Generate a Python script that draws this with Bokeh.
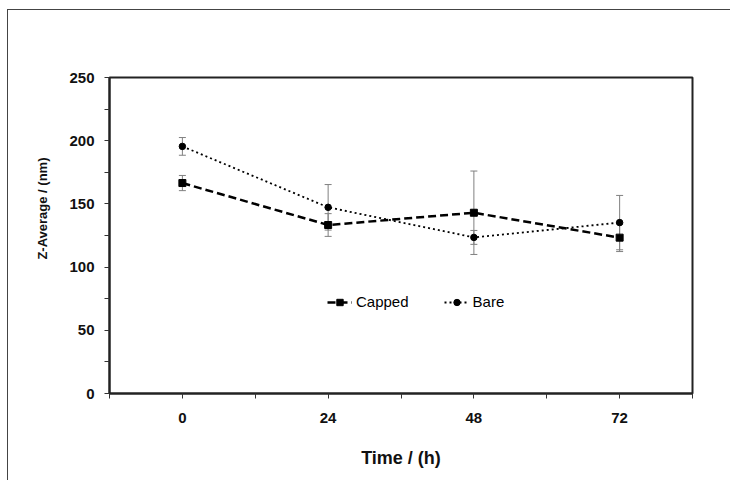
from bokeh.plotting import figure
from bokeh.models import (ColumnDataSource, Whisker, TeeHead, FixedTicker, Legend,
                          LegendItem, Range1d, Title)
from bokeh.embed import file_html
from bokeh.resources import INLINE

hours = [0, 24, 48, 72]
capped = [166.5, 133.3, 143.0, 123.3]
capped_err = [6, 9, 33, 11]
bare = [195.5, 147.3, 123.5, 135.2]
bare_err = [7, 18, 5.5, 21.5]
x_tick_labels = ["0", "24", "48", "72"]
y_ticks = [0, 50, 100, 150, 200, 250]

FONT = "Liberation Sans"

p = figure(width=723, height=471, output_backend="svg", toolbar_location=None,
           x_range=Range1d(-12, 84), y_range=Range1d(0, 250),
           min_border_left=101, min_border_right=39, min_border_top=67, min_border_bottom=88)
p.styles = {"border-left": "1px solid #444", "border-top": "1px solid #444",
            "margin-left": "7px", "margin-top": "9px"}
p.background_fill_color = "white"
p.border_fill_color = "white"
p.outline_line_color = "#222"
p.outline_line_width = 2
p.grid.visible = False

src_c = ColumnDataSource(dict(x=hours, y=capped,
                              lo=[v - e for v, e in zip(capped, capped_err)],
                              hi=[v + e for v, e in zip(capped, capped_err)]))
src_b = ColumnDataSource(dict(x=hours, y=bare,
                              lo=[v - e for v, e in zip(bare, bare_err)],
                              hi=[v + e for v, e in zip(bare, bare_err)]))

for src in (src_b, src_c):
    w = Whisker(source=src, base="x", upper="hi", lower="lo", line_color="#808080", line_width=1,
                upper_head=TeeHead(size=7, line_color="#808080", line_width=1),
                lower_head=TeeHead(size=7, line_color="#808080", line_width=1))
    p.add_layout(w)

lc = p.line("x", "y", source=src_c, line_color="black", line_width=2.5, line_dash="8 4")
sc = p.scatter("x", "y", source=src_c, marker="square", size=7, color="black")
lb = p.line("x", "y", source=src_b, line_color="black", line_width=1.8, line_dash="2 3")
sb = p.scatter("x", "y", source=src_b, marker="circle", size=6.5, color="black")

legend = Legend(items=[LegendItem(label="Capped", renderers=[lc, sc]),
                       LegendItem(label="Bare", renderers=[lb, sb])],
                orientation="horizontal", location=(218, 83),
                border_line_color=None, background_fill_alpha=0,
                label_text_font=FONT, label_text_font_size="15px", label_text_color="black",
                glyph_width=25, glyph_height=16, label_standoff=4, spacing=35,
                padding=0, margin=0)
p.add_layout(legend)

for ax in (p.xaxis[0], p.yaxis[0]):
    ax.axis_line_color = "#222"
    ax.axis_line_width = 2
    ax.major_tick_line_color = "#333"
    ax.minor_tick_line_color = "#333"
    ax.major_tick_in = 0
    ax.major_tick_out = 5
    ax.minor_tick_in = 0
    ax.minor_tick_out = 5
    ax.major_label_text_font = FONT
    ax.major_label_text_font_style = "bold"
    ax.major_label_text_font_size = "15px"
    ax.major_label_text_color = "#111"

p.xaxis.ticker = FixedTicker(ticks=hours, minor_ticks=[-12, 12, 36, 60, 84])
p.xaxis.major_label_overrides = {h: t for h, t in zip(hours, x_tick_labels)}
p.xaxis.major_label_standoff = 14
p.xaxis.axis_label = "Time / (h)"
p.xaxis.axis_label_text_font = FONT
p.xaxis.axis_label_text_font_style = "bold"
p.xaxis.axis_label_text_font_size = "18px"
p.xaxis.axis_label_text_color = "#111"
p.xaxis.axis_label_standoff = 22

p.yaxis.ticker = FixedTicker(ticks=y_ticks, minor_ticks=[25, 75, 125, 175, 225])
p.yaxis.major_label_standoff = 10

ytitle = Title(text="Z-Average / (nm)", align="right", offset=80, standoff=34,
               text_font=FONT, text_font_style="bold", text_font_size="13px",
               text_color="#111")
p.add_layout(ytitle, "left")

open("out.html", "w").write(file_html(p, INLINE))
